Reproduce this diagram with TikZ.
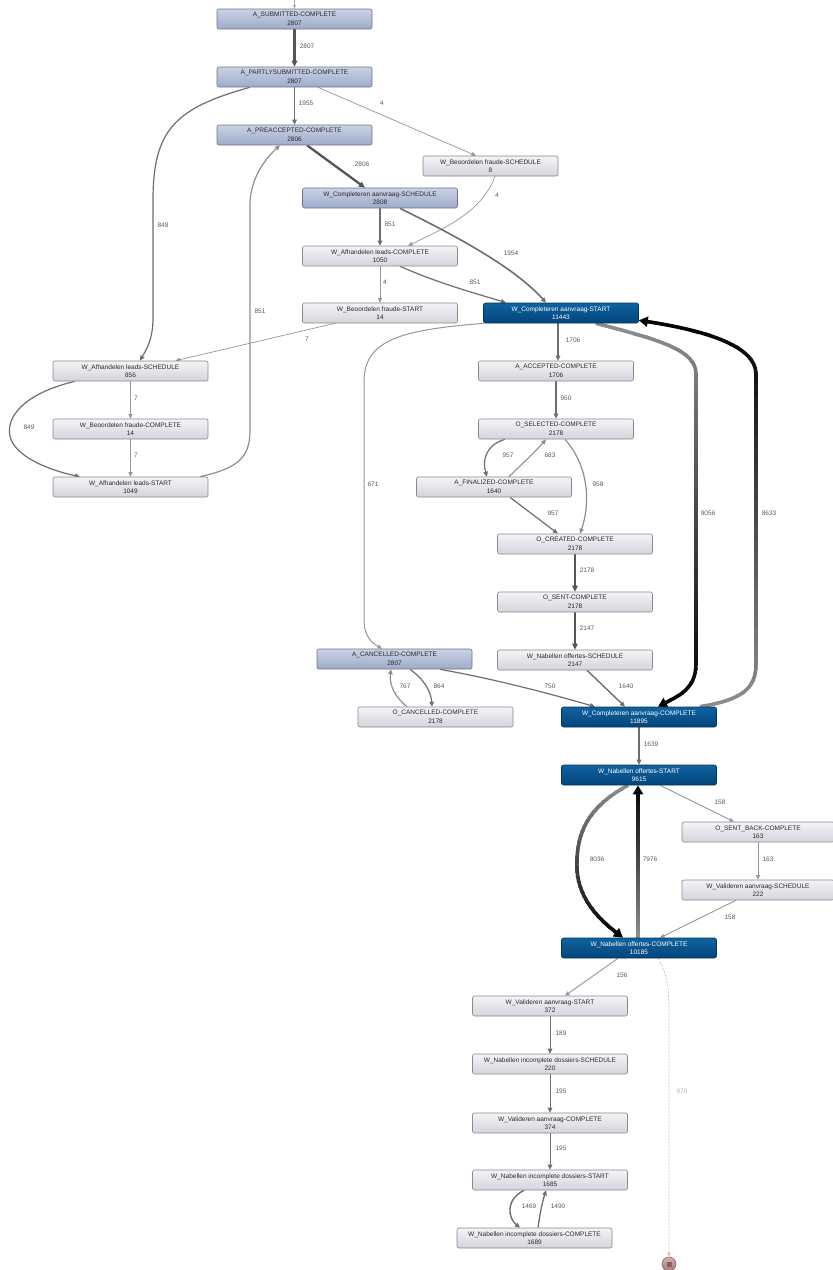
\documentclass[tikz,border=0pt]{standalone}
\usepackage{fontspec}
\setmainfont{Liberation Sans}
\usetikzlibrary{arrows.meta}

\pgfdeclarelayer{paper}
\pgfdeclarelayer{edges}
\pgfsetlayers{paper,edges,main}

% node fills and borders
\definecolor{blueTop}{HTML}{CAD2E5}
\definecolor{blueBot}{HTML}{9DAACA}
\definecolor{blueLine}{HTML}{6E7588}
\definecolor{grayTop}{HTML}{F5F3F7}
\definecolor{grayBot}{HTML}{D6D3DC}
\definecolor{grayLine}{HTML}{8A8A8E}
\definecolor{darkTop}{HTML}{0F629F}
\definecolor{darkBot}{HTML}{02457B}
\definecolor{darkLine}{HTML}{02375F}
\definecolor{txtDark}{HTML}{2A2A2A}
% connectors and labels
\definecolor{edgeDark}{HTML}{555555}
\definecolor{edgeMid}{HTML}{6E6E6E}
\definecolor{edgeLight}{HTML}{979797}
\definecolor{edgeFade}{HTML}{8E8E8E}
\definecolor{lblText}{HTML}{5A5A5A}
\definecolor{endEdge}{HTML}{DDBDBD}
\definecolor{endLbl}{HTML}{C9A9A9}
\definecolor{endTop}{HTML}{D4AEAE}
\definecolor{endBot}{HTML}{A87A7A}
\definecolor{endLine}{HTML}{8E6464}
\definecolor{endSq}{HTML}{8F5E5E}
\definecolor{startEdge}{HTML}{9DBE8C}

% a thick connector whose colour runs from #3 (at height #1) to #4 (at height #2)
\newcommand\gradline[6]{%
  \foreach \k in {0,...,29}{%
    \pgfmathsetmacro\ya{#1+(#2-#1)*\k/30}%
    \pgfmathsetmacro\yb{#1+(#2-#1)*(\k+1)/30+0.6}%
    \pgfmathsetmacro\mix{100*(\k+0.5)/30}%
    \begin{scope}
      \clip (-10,\ya) rectangle (850,\yb);
      \draw[#5, color=#4!\mix!#3] #6;
    \end{scope}%
  }%
}

\tikzset{
  box/.style={rectangle, rounded corners=2pt, minimum width=155pt,
    minimum height=20pt, inner sep=0pt, align=center,
    font=\fontsize{6.5}{8.5}\selectfont, line width=0.6pt},
  boxblue/.style={box, top color=blueTop, bottom color=blueBot, draw=blueLine, text=txtDark},
  boxgray/.style={box, top color=grayTop, bottom color=grayBot, draw=grayLine, text=txtDark},
  boxdark/.style={box, top color=darkTop, bottom color=darkBot, draw=darkLine, text=white},
  lbl/.style={font=\fontsize{6.5}{7}\selectfont, text=lblText, inner sep=0pt},
  flow/.style={draw=edgeMid, line width=#1, -{Triangle[length=5pt,width=4.5pt]}},
  flow/.default=1.2pt,
  flowdark/.style={draw=edgeDark, line width=#1, -{Triangle[length=6pt,width=5.5pt]}},
  flowdark/.default=2pt,
  flowlight/.style={draw=edgeLight, line width=#1, -{Triangle[length=4.5pt,width=4pt]}},
  flowlight/.default=0.7pt,
  heavytip/.style={line width=2.6pt, -{Triangle[length=9pt,width=10pt]}},
  heavybody/.style={line width=3.6pt, shorten >=8pt},
}

\begin{document}
\begin{tikzpicture}[x=1pt, y=-1pt]
\useasboundingbox (0,0) rectangle (833,1270);
\begin{pgfonlayer}{paper}
\fill[white] (0,0) rectangle (833,1270);
\end{pgfonlayer}

% ---------- activities ----------
\node[boxblue] (sub) at (294.5,19) {A\_SUBMITTED-COMPLETE\\2807};
\node[boxblue] (part) at (294.5,77) {A\_PARTLYSUBMITTED-COMPLETE\\2807};
\node[boxblue] (pre) at (294.5,135) {A\_PREACCEPTED-COMPLETE\\2806};
\node[boxgray, minimum width=135pt] (bfs) at (490.5,166) {W\_Beoordelen fraude-SCHEDULE\\8};
\node[boxblue] (cas) at (380,198) {W\_Completeren aanvraag-SCHEDULE\\2808};
\node[boxgray] (alc) at (380,256) {W\_Afhandelen leads-COMPLETE\\1050};
\node[boxgray] (bfst) at (380,313) {W\_Beoordelen fraude-START\\14};
\node[boxdark] (cast) at (561,313) {W\_Completeren aanvraag-START\\11443};
\node[boxgray] (als) at (130.5,371) {W\_Afhandelen leads-SCHEDULE\\856};
\node[boxgray] (bfc) at (130.5,429) {W\_Beoordelen fraude-COMPLETE\\14};
\node[boxgray] (alst) at (130.5,487) {W\_Afhandelen leads-START\\1049};
\node[boxgray] (acc) at (556,371) {A\_ACCEPTED-COMPLETE\\1706};
\node[boxgray] (osel) at (556,429) {O\_SELECTED-COMPLETE\\2178};
\node[boxgray] (afin) at (494,487) {A\_FINALIZED-COMPLETE\\1640};
\node[boxgray] (ocr) at (575,544) {O\_CREATED-COMPLETE\\2178};
\node[boxgray] (osent) at (575,602) {O\_SENT-COMPLETE\\2178};
\node[boxgray] (nos) at (575,660) {W\_Nabellen offertes-SCHEDULE\\2147};
\node[boxblue] (acan) at (394.5,659) {A\_CANCELLED-COMPLETE\\2807};
\node[boxgray] (ocan) at (435.5,717) {O\_CANCELLED-COMPLETE\\2178};
\node[boxdark] (cac) at (639,717) {W\_Completeren aanvraag-COMPLETE\\11895};
\node[boxdark] (nost) at (639,775) {W\_Nabellen offertes-START\\9615};
\node[boxgray, minimum width=152pt] (osb) at (758,832) {O\_SENT\_BACK-COMPLETE\\163};
\node[boxgray, minimum width=152pt] (vas) at (758,890) {W\_Valideren aanvraag-SCHEDULE\\222};
\node[boxdark] (noc) at (639,948) {W\_Nabellen offertes-COMPLETE\\10185};
\node[boxgray] (vast) at (550,1006) {W\_Valideren aanvraag-START\\372};
\node[boxgray] (nids) at (550,1064) {W\_Nabellen incomplete dossiers-SCHEDULE\\220};
\node[boxgray] (vac) at (550,1123) {W\_Valideren aanvraag-COMPLETE\\374};
\node[boxgray] (nidst) at (550,1180) {W\_Nabellen incomplete dossiers-START\\1685};
\node[boxgray] (nidc) at (534.5,1238) {W\_Nabellen incomplete dossiers-COMPLETE\\1689};

% end event
\node[circle, minimum size=14pt, inner sep=0pt, top color=endTop, bottom color=endBot,
      draw=endLine, line width=0.6pt] (end) at (669,1264) {};
\node[rectangle, fill=endSq, minimum size=5pt, inner sep=0pt] (endsq) at (end.center) {};
\coordinate (init) at (294.5,-3);

% ---------- connectors ----------
\begin{pgfonlayer}{edges}
\draw[draw=startEdge, line width=0.6pt, -{Triangle[length=3.5pt,width=3pt]}] (init) -- (sub.north);

\draw[flowdark=2.2pt] (sub.south) -- (part.north);
\draw[flow=1.6pt] (part.south) -- (pre.north);
\draw[flowlight] ([xshift=23.5]part.south) -- ([xshift=-14.5]bfs.north);
\draw[flow=1.2pt] ([xshift=-44.5]part.south) .. controls (175,108) and (153,130) .. (153,200)
  -- (153,318) .. controls (153,340) and (146,350) .. ([xshift=9.5]als.north);
\draw[flowdark=2.3pt] ([xshift=12.5]pre.south) -- ([xshift=-15]cas.north);
\draw[flow=1.2pt, draw=edgeFade] ([xshift=69.5]alst.north) .. controls (238,468) and (250,458) .. (250,430)
  -- (250,205) .. controls (250,178) and (266,158) .. ([xshift=-14.5]pre.south);
\draw[flowlight] ([xshift=4.5]bfs.south) .. controls (482,212) and (445,228) .. ([xshift=28]alc.north);
\draw[flow=1.2pt] (cas.south) -- (alc.north);
\draw[flow=1.6pt] ([xshift=20]cas.south) .. controls (460,238) and (515,268) .. ([xshift=-15]cast.north);
\draw[flowlight] (alc.south) -- (bfst.north);
\draw[flow=1.2pt] ([xshift=20]alc.south) .. controls (440,284) and (478,294) .. ([xshift=-55]cast.north);
\draw[flowlight] ([xshift=-45]bfst.south) -- ([xshift=45]als.north);
\draw[flowlight] (als.south) -- (bfc.north);
\draw[flowlight] (bfc.south) -- (alst.north);
\draw[flow=1.2pt] ([xshift=-55.5]als.south) .. controls (22,394) and (6,418) .. (10,436)
  .. controls (14,456) and (48,470) .. ([xshift=-50.5]alst.north);
\draw[flow=1.4pt] ([xshift=-3]cast.south) -- ([xshift=2]acc.north);
\draw[flowlight=1pt] ([xshift=-77]cast.south) .. controls (400,330) and (364,340) .. (364,382)
  -- (364,620) .. controls (364,638) and (374,644) .. ([xshift=-12.5]acan.north);
\draw[flow=1.2pt] (acc.south) -- (osel.north);
\draw[flow=1.2pt] ([xshift=-51]osel.south) .. controls (486,445) and (482,460) .. ([xshift=-7]afin.north);
\draw[flow=1.1pt, draw=edgeFade] ([xshift=15]afin.north) .. controls (520,466) and (535,452) .. ([xshift=-10]osel.south);
\draw[flow=1.2pt, draw=edgeFade] ([xshift=9]osel.south) .. controls (590,468) and (590,505) .. ([xshift=5]ocr.north);
\draw[flow=1.2pt] ([xshift=16]afin.south) -- ([xshift=-17]ocr.north);
\draw[flowdark=1.9pt] (ocr.south) -- (osent.north);
\draw[flowdark=1.9pt] (osent.south) -- (nos.north);
\draw[flow=1.4pt] ([xshift=12]nos.south) -- ([xshift=-14]cac.north);
\draw[flow=1.2pt] ([xshift=45.5]acan.south) .. controls (500,680) and (558,696) .. ([xshift=-44]cac.north);
\draw[flow=1.2pt] ([xshift=15.5]acan.south) .. controls (425,680) and (431,692) .. ([xshift=-3.5]ocan.north);
\draw[flow=1.2pt, draw=edgeFade] ([xshift=-28.5]ocan.north) .. controls (396,698) and (389,686) .. ([xshift=-3.5]acan.south);

% heavy rework loop between the two W_Completeren aanvraag steps
\draw[heavytip, draw=black] ([xshift=35]cast.south) .. controls (660,340) and (696,350) .. (696,374)
  -- (696,664) .. controls (696,690) and (676,697) .. ([xshift=19]cac.north);
\gradline{323}{707}{edgeFade}{black}{heavybody}{([xshift=35]cast.south) .. controls (660,340) and (696,350) .. (696,374)
  -- (696,664) .. controls (696,690) and (676,697) .. ([xshift=19]cac.north)}
\draw[heavytip, draw=black] ([xshift=61]cac.north) .. controls (740,700) and (756,690) .. (756,664)
  -- (756,374) .. controls (756,345) and (702,330) .. ([yshift=3]cast.south east);
\gradline{320}{707}{black}{edgeFade}{heavybody}{([xshift=61]cac.north) .. controls (740,700) and (756,690) .. (756,664)
  -- (756,374) .. controls (756,345) and (702,330) .. ([yshift=3]cast.south east)}

\draw[flow=1.4pt] (cac.south) -- (nost.north);
\draw[flowlight=0.9pt] ([xshift=21]nost.south) -- ([xshift=-24]osb.north);
\draw[flowlight=0.9pt] (osb.south) -- (vas.north);
\draw[flowlight=0.9pt] ([xshift=-22]vas.south) -- ([xshift=21]noc.north);

% heavy loop between the two W_Nabellen offertes steps
\draw[heavytip, draw=black] ([xshift=-11]nost.south) .. controls (582,810) and (576,840) .. (577,870)
  .. controls (579,900) and (600,920) .. ([xshift=-16]noc.north);
\gradline{785}{938}{edgeFade}{black}{heavybody}{([xshift=-11]nost.south) .. controls (582,810) and (576,840) .. (577,870)
  .. controls (579,900) and (600,920) .. ([xshift=-16]noc.north)}
\draw[heavytip, draw=black] ([xshift=-1]noc.north) -- ([xshift=-1]nost.south);
\gradline{785}{938}{black}{edgeFade}{heavybody}{([xshift=-1]noc.north) -- ([xshift=-1]nost.south)}

\draw[flowlight=0.9pt] ([xshift=-21]noc.south) -- ([xshift=15]vast.north);
\draw[draw=endEdge, line width=0.8pt, dash pattern=on 2pt off 1.5pt,
      -{Triangle[length=4pt,width=3.5pt]}] ([xshift=19]noc.south) .. controls (668,975) and (669,990) .. (669,1012)
  -- (end.north);
\draw[flow=1pt] (vast.south) -- (nids.north);
\draw[flow=1pt] (nids.south) -- (vac.north);
\draw[flow=1pt] (vac.south) -- (nidst.north);
\draw[flow=1.4pt] ([xshift=-26]nidst.south) .. controls (505,1200) and (508,1218) .. ([xshift=-14.5]nidc.north);
\draw[flow=1.3pt] ([xshift=3.5]nidc.north) .. controls (540,1212) and (543,1200) .. ([xshift=-4]nidst.south);
\end{pgfonlayer}

% ---------- frequencies ----------
\node[lbl] (l01) at (307,46) {2807};
\node[lbl] (l02) at (306,103) {1955};
\node[lbl] (l03) at (382,103) {4};
\node[lbl] (l04) at (163,225) {848};
\node[lbl] (l05) at (362,164) {2806};
\node[lbl] (l06) at (260,311) {851};
\node[lbl] (l07) at (497,195) {4};
\node[lbl] (l08) at (390,224) {851};
\node[lbl] (l09) at (511,253) {1954};
\node[lbl] (l10) at (385,282) {4};
\node[lbl] (l11) at (475,282) {851};
\node[lbl] (l12) at (307,339) {7};
\node[lbl] (l13) at (136,398) {7};
\node[lbl] (l14) at (136,455) {7};
\node[lbl] (l15) at (29,427) {849};
\node[lbl] (l16) at (573,340) {1706};
\node[lbl] (l17) at (373,484) {671};
\node[lbl] (l18) at (566,398) {950};
\node[lbl] (l19) at (508,455) {957};
\node[lbl] (l20) at (550,455) {683};
\node[lbl] (l21) at (598,484) {958};
\node[lbl] (l22) at (553,513) {957};
\node[lbl] (l23) at (587,570) {2178};
\node[lbl] (l24) at (587,628) {2147};
\node[lbl] (l25) at (626,686) {1640};
\node[lbl] (l26) at (550,686) {750};
\node[lbl] (l27) at (439,686) {864};
\node[lbl] (l28) at (405,686) {767};
\node[lbl] (l29) at (708,513) {9056};
\node[lbl] (l30) at (769,513) {8633};
\node[lbl] (l31) at (651,744) {1639};
\node[lbl] (l32) at (720,802) {158};
\node[lbl] (l33) at (768,859) {163};
\node[lbl] (l34) at (730,917) {158};
\node[lbl] (l35) at (597,859) {8036};
\node[lbl] (l36) at (650,859) {7976};
\node[lbl] (l37) at (622,975) {156};
\node[lbl, text=endLbl] (l38) at (682,1091) {970};
\node[lbl] (l39) at (561,1033) {189};
\node[lbl] (l40) at (561,1091) {195};
\node[lbl] (l41) at (561,1148) {195};
\node[lbl] (l42) at (529,1206) {1469};
\node[lbl] (l43) at (558,1206) {1490};
\end{tikzpicture}
\end{document}
